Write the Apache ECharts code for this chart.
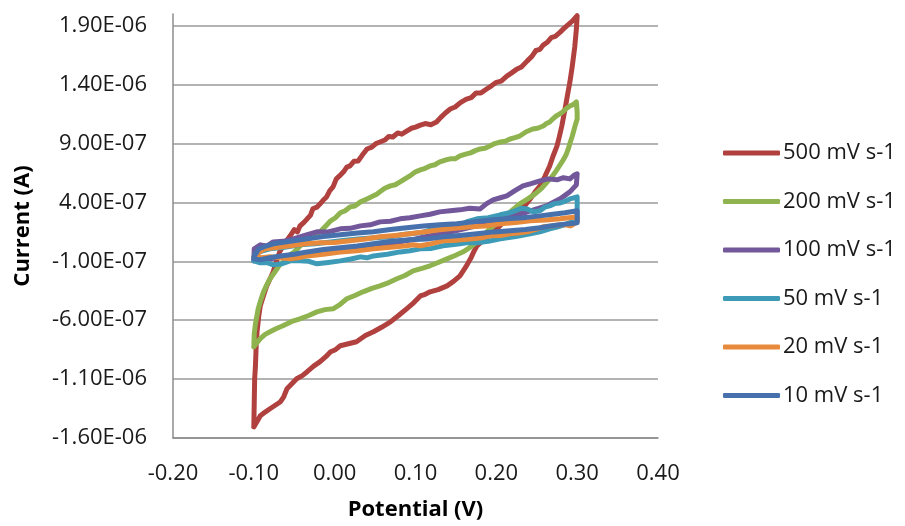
<!DOCTYPE html>
<html>
<head>
<meta charset="utf-8">
<script src="https://cdn.jsdelivr.net/npm/echarts@6/dist/echarts.min.js"></script>
<style>
html,body{margin:0;padding:0;background:#fff;}
#chart{width:905px;height:526px;}
</style>
</head>
<body>
<div id="chart"></div>
<script>
// Potential (V) vs current (µA; axis labels shown in A)
const seriesNames = ['500 mV s-1', '200 mV s-1', '100 mV s-1', '50 mV s-1', '20 mV s-1', '10 mV s-1'];
const seriesColors = ['#B0413E', '#8FB44F', '#72579B', '#3E9BB7', '#E88A3C', '#4771AD'];
const xTicks = [-0.2, -0.1, 0.0, 0.1, 0.2, 0.3, 0.4];
const yTicks = [-1.6, -1.1, -0.6, -0.1, 0.4, 0.9, 1.4, 1.9];

const cv500 = [[-0.100,-1.500],[-0.0995,-1.30],[-0.099,-1.10],[-0.098,-0.987],[-0.097,-0.80],[-0.096,-0.698],[-0.094,-0.57],[-0.092,-0.478],[-0.088,-0.39],[-0.084,-0.308],[-0.080,-0.25],[-0.076,-0.189],[-0.072,-0.10],[-0.068,-0.019],[-0.062,0.05],[-0.055,0.117],[-0.050,0.17],[-0.046,0.15],[-0.043,0.20],[-0.038,0.23],[-0.034,0.261],[-0.030,0.29],[-0.027,0.346],[-0.022,0.36],[-0.018,0.388],[-0.014,0.42],[-0.010,0.447],[-0.006,0.50],[-0.002,0.532],[0.002,0.60],[0.006,0.625],[0.011,0.66],[0.015,0.70],[0.019,0.710],[0.024,0.75],[0.029,0.752],[0.034,0.80],[0.040,0.854],[0.046,0.87],[0.051,0.90],[0.056,0.913],[0.062,0.93],[0.067,0.96],[0.072,0.956],[0.078,0.99],[0.083,0.98],[0.089,1.006],[0.095,1.03],[0.100,1.04],[0.106,1.057],[0.112,1.07],[0.119,1.06],[0.126,1.083],[0.131,1.12],[0.137,1.16],[0.143,1.193],[0.149,1.21],[0.156,1.25],[0.163,1.278],[0.169,1.29],[0.175,1.33],[0.181,1.33],[0.188,1.363],[0.194,1.39],[0.200,1.42],[0.206,1.43],[0.213,1.473],[0.219,1.50],[0.225,1.53],[0.231,1.55],[0.238,1.600],[0.244,1.64],[0.249,1.69],[0.254,1.70],[0.258,1.736],[0.263,1.76],[0.268,1.80],[0.273,1.81],[0.279,1.846],[0.284,1.88],[0.289,1.91],[0.294,1.94],[0.300,1.985],
[0.299,1.87],[0.297,1.72],[0.294,1.56],[0.291,1.422],[0.288,1.31],[0.285,1.193],[0.281,1.049],[0.278,0.96],[0.275,0.879],[0.270,0.79],[0.266,0.710],[0.260,0.62],[0.254,0.540],[0.248,0.49],[0.242,0.430],[0.236,0.38],[0.229,0.337],[0.223,0.31],[0.217,0.278],[0.212,0.25],[0.208,0.227],[0.200,0.17],[0.192,0.125],[0.184,0.08],[0.176,0.031],[0.172,-0.02],[0.168,-0.079],[0.162,-0.15],[0.155,-0.223],[0.147,-0.27],[0.139,-0.308],[0.128,-0.34],[0.118,-0.359],[0.112,-0.38],[0.106,-0.394],[0.098,-0.45],[0.089,-0.503],[0.079,-0.56],[0.069,-0.614],[0.058,-0.66],[0.048,-0.698],[0.038,-0.73],[0.027,-0.783],[0.017,-0.80],[0.007,-0.817],[0.001,-0.85],[-0.005,-0.868],[-0.011,-0.91],[-0.018,-0.952],[-0.026,-0.99],[-0.034,-1.037],[-0.040,-1.07],[-0.047,-1.097],[-0.053,-1.14],[-0.059,-1.182],[-0.063,-1.25],[-0.067,-1.292],[-0.073,-1.32],[-0.080,-1.352],[-0.086,-1.38],[-0.092,-1.411],[-0.096,-1.46],[-0.100,-1.506]];

const cv200 = [[-0.100,-0.826],[-0.0995,-0.715],[-0.098,-0.630],[-0.0946,-0.503],[-0.091,-0.42],[-0.088,-0.359],[-0.084,-0.30],[-0.080,-0.248],[-0.074,-0.19],[-0.068,-0.130],[-0.061,-0.09],[-0.055,-0.045],[-0.050,-0.02],[-0.046,0.006],[-0.040,0.05],[-0.034,0.083],[-0.026,0.11],[-0.018,0.151],[-0.011,0.20],[-0.005,0.244],[0.001,0.27],[0.007,0.312],[0.013,0.33],[0.019,0.362],[0.025,0.37],[0.032,0.405],[0.040,0.43],[0.048,0.456],[0.052,0.47],[0.056,0.490],[0.062,0.52],[0.069,0.541],[0.075,0.55],[0.081,0.574],[0.087,0.60],[0.093,0.625],[0.100,0.66],[0.106,0.676],[0.112,0.69],[0.118,0.710],[0.124,0.72],[0.130,0.744],[0.137,0.76],[0.143,0.770],[0.149,0.77],[0.155,0.795],[0.162,0.81],[0.168,0.821],[0.174,0.84],[0.180,0.854],[0.186,0.86],[0.192,0.879],[0.198,0.90],[0.205,0.913],[0.211,0.92],[0.217,0.939],[0.223,0.95],[0.229,0.964],[0.237,1.00],[0.245,1.023],[0.251,1.03],[0.258,1.049],[0.262,1.07],[0.266,1.083],[0.270,1.11],[0.274,1.134],[0.278,1.15],[0.282,1.168],[0.287,1.20],[0.291,1.219],[0.295,1.23],[0.299,1.253],
[0.300,1.168],[0.300,1.108],[0.297,1.040],[0.294,0.964],[0.291,0.90],[0.289,0.854],[0.286,0.80],[0.282,0.752],[0.278,0.71],[0.274,0.668],[0.269,0.62],[0.263,0.574],[0.256,0.52],[0.248,0.473],[0.239,0.43],[0.229,0.388],[0.219,0.33],[0.208,0.261],[0.200,0.22],[0.192,0.176],[0.184,0.12],[0.176,0.066],[0.168,0.02],[0.159,-0.019],[0.149,-0.05],[0.139,-0.079],[0.128,-0.11],[0.118,-0.138],[0.108,-0.16],[0.097,-0.181],[0.087,-0.22],[0.077,-0.248],[0.067,-0.28],[0.056,-0.308],[0.046,-0.33],[0.035,-0.359],[0.025,-0.39],[0.015,-0.418],[0.006,-0.47],[-0.002,-0.503],[-0.012,-0.51],[-0.022,-0.529],[-0.032,-0.56],[-0.043,-0.588],[-0.053,-0.61],[-0.064,-0.647],[-0.072,-0.67],[-0.080,-0.698],[-0.086,-0.72],[-0.092,-0.757],[-0.096,-0.79],[-0.100,-0.826]];

const cv100 = [[-0.100,-0.096],[-0.0995,0.006],[-0.092,0.040],[-0.084,0.03],[-0.076,0.065],[-0.064,0.07],[-0.051,0.091],[-0.037,0.12],[-0.022,0.151],[-0.008,0.15],[0.007,0.176],[0.019,0.18],[0.032,0.201],[0.044,0.21],[0.056,0.235],[0.069,0.24],[0.081,0.261],[0.093,0.27],[0.106,0.286],[0.118,0.30],[0.130,0.320],[0.143,0.33],[0.155,0.337],[0.167,0.35],[0.180,0.345],[0.188,0.39],[0.196,0.422],[0.205,0.44],[0.213,0.456],[0.223,0.50],[0.233,0.541],[0.243,0.56],[0.254,0.583],[0.264,0.60],[0.275,0.592],[0.283,0.61],[0.291,0.600],[0.296,0.63],[0.300,0.643],
[0.299,0.549],[0.291,0.490],[0.285,0.46],[0.279,0.431],[0.270,0.40],[0.262,0.371],[0.252,0.35],[0.242,0.329],[0.230,0.30],[0.217,0.278],[0.205,0.25],[0.192,0.227],[0.174,0.20],[0.155,0.168],[0.137,0.14],[0.118,0.117],[0.100,0.09],[0.081,0.066],[0.062,0.05],[0.044,0.032],[0.025,0.01],[0.007,-0.002],[-0.012,-0.02],[-0.030,-0.028],[-0.048,-0.05],[-0.067,-0.062],[-0.080,-0.08],[-0.092,-0.087],[-0.100,-0.096]];

const cv50 = [[-0.100,-0.096],[-0.098,-0.037],[-0.089,-0.01],[-0.080,0.006],[-0.062,0.02],[-0.043,0.040],[-0.024,0.05],[-0.005,0.065],[0.013,0.08],[0.032,0.091],[0.050,0.10],[0.069,0.108],[0.087,0.13],[0.106,0.142],[0.120,0.17],[0.134,0.201],[0.145,0.19],[0.155,0.210],[0.165,0.24],[0.176,0.261],[0.190,0.27],[0.205,0.295],[0.215,0.31],[0.223,0.329],[0.231,0.35],[0.238,0.345],[0.246,0.32],[0.254,0.329],[0.260,0.36],[0.266,0.371],[0.272,0.39],[0.279,0.396],[0.285,0.41],[0.291,0.430],[0.300,0.447],
[0.300,0.345],[0.300,0.243],[0.292,0.23],[0.284,0.210],[0.275,0.19],[0.266,0.176],[0.254,0.15],[0.242,0.134],[0.224,0.11],[0.205,0.091],[0.190,0.07],[0.176,0.057],[0.165,0.06],[0.155,0.049],[0.145,0.04],[0.134,0.032],[0.120,0.01],[0.106,0.006],[0.093,-0.01],[0.081,-0.020],[0.065,-0.04],[0.048,-0.054],[0.040,-0.07],[0.032,-0.062],[0.020,-0.08],[0.007,-0.096],[-0.008,-0.11],[-0.022,-0.121],[-0.032,-0.10],[-0.043,-0.096],[-0.055,-0.096],[-0.065,-0.12],[-0.076,-0.130],[-0.084,-0.11],[-0.092,-0.113],[-0.100,-0.096]];

const cv20 = [[-0.100,-0.062],[-0.093,-0.02],[-0.086,0.006],[-0.070,0.02],[-0.055,0.032],[-0.036,0.05],[-0.018,0.057],[0.000,0.06],[0.019,0.074],[0.038,0.09],[0.056,0.108],[0.075,0.12],[0.093,0.134],[0.111,0.15],[0.130,0.168],[0.149,0.18],[0.168,0.193],[0.186,0.20],[0.205,0.218],[0.224,0.23],[0.242,0.244],[0.261,0.25],[0.279,0.261],[0.290,0.27],[0.300,0.278],
[0.300,0.235],[0.292,0.201],[0.285,0.21],[0.279,0.210],[0.268,0.20],[0.258,0.193],[0.248,0.17],[0.238,0.151],[0.227,0.14],[0.217,0.134],[0.205,0.12],[0.192,0.117],[0.182,0.10],[0.171,0.091],[0.152,0.08],[0.134,0.074],[0.120,0.05],[0.106,0.032],[0.097,0.04],[0.089,0.032],[0.069,0.02],[0.048,0.006],[0.028,-0.01],[0.007,-0.020],[-0.014,-0.04],[-0.034,-0.054],[-0.045,-0.07],[-0.055,-0.079],[-0.067,-0.07],[-0.080,-0.062],[-0.090,-0.07],[-0.100,-0.062]];

const cv10 = [[-0.100,-0.062],[-0.094,0.006],[-0.085,0.03],[-0.076,0.049],[-0.055,0.07],[-0.034,0.091],[-0.014,0.11],[0.007,0.125],[0.028,0.14],[0.048,0.151],[0.069,0.17],[0.089,0.185],[0.110,0.20],[0.130,0.210],[0.151,0.22],[0.171,0.235],[0.192,0.25],[0.213,0.261],[0.233,0.27],[0.254,0.286],[0.270,0.30],[0.285,0.312],[0.300,0.329],
[0.300,0.227],[0.290,0.22],[0.279,0.210],[0.267,0.20],[0.254,0.185],[0.236,0.17],[0.217,0.159],[0.197,0.15],[0.176,0.134],[0.155,0.12],[0.134,0.108],[0.114,0.09],[0.093,0.083],[0.070,0.07],[0.048,0.049],[0.028,0.03],[0.007,0.015],[-0.014,0.00],[-0.034,-0.020],[-0.050,-0.04],[-0.067,-0.054],[-0.080,-0.07],[-0.092,-0.087],[-0.100,-0.079]];

const allData = [cv500, cv200, cv100, cv50, cv20, cv10];

function fmtA(vMicro) {
  const s = (vMicro * 1e-6).toExponential(2);
  const parts = s.split('e');
  const e = parseInt(parts[1], 10);
  const sign = e < 0 ? '-' : '+';
  return parts[0] + 'E' + sign + String(Math.abs(e)).padStart(2, '0');
}

const FONT = '"Open Sans"';
const chart = echarts.init(document.getElementById('chart'), null, {renderer: 'canvas'});
chart.setOption({
  animation: false,
  backgroundColor: '#ffffff',
  grid: {left: 173, right: 247, top: 14, bottom: 87, containLabel: false},
  xAxis: {
    type: 'value', min: -0.2, max: 0.4, interval: 0.1,
    name: 'Potential (V)', nameLocation: 'middle', nameGap: 61,
    nameTextStyle: {fontFamily: FONT, fontSize: 22, fontWeight: 'bold', color: '#000'},
    axisLine: {show: true, onZero: false, lineStyle: {color: '#8c8c8c', width: 1.5}},
    axisTick: {show: false},
    splitLine: {show: false},
    axisLabel: {fontFamily: FONT, fontSize: 22, color: '#1a1a1a', margin: 25,
      formatter: v => v.toFixed(2)}
  },
  yAxis: {
    type: 'value', min: -1.6, max: 2.0,
    name: 'Current (A)', nameLocation: 'middle', nameGap: 139, nameRotate: 90,
    nameTextStyle: {fontFamily: FONT, fontSize: 22, fontWeight: 'bold', color: '#000'},
    axisLine: {show: true, onZero: false, lineStyle: {color: '#8c8c8c', width: 1.5}},
    axisTick: {show: false, customValues: yTicks},
    splitLine: {show: true, lineStyle: {color: '#9a9a9a', width: 1.5}},
    axisLabel: {fontFamily: FONT, fontSize: 22, color: '#1a1a1a', margin: 26,
      customValues: yTicks, formatter: v => fmtA(v)}
  },
  legend: {
    orient: 'vertical', left: 723, top: 142, padding: 0,
    itemWidth: 57, itemHeight: 5, itemGap: 26.5, icon: 'roundRect',
    textStyle: {fontFamily: FONT, fontSize: 22, color: '#1a1a1a', lineHeight: 22, padding: [0, 0, 0, -2]},
    data: seriesNames
  },
  series: allData.map((d, i) => ({
    name: seriesNames[i],
    type: 'line',
    data: d,
    showSymbol: false,
    symbol: 'none',
    color: seriesColors[i],
    lineStyle: {width: 5, color: seriesColors[i], join: 'round', cap: 'round'},
    z: 2 + i
  }))
});
</script>
</body>
</html>
